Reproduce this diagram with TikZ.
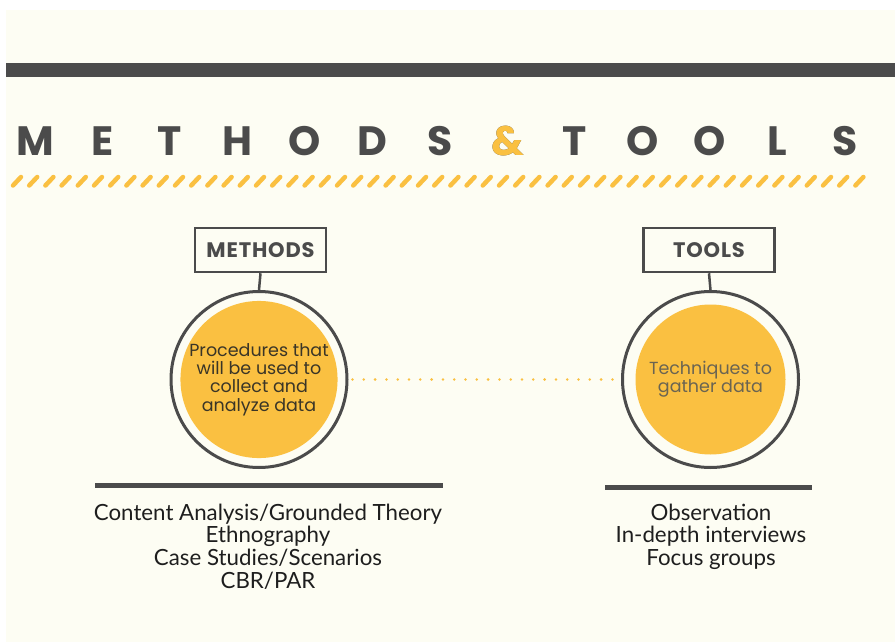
\documentclass[tikz,border=0pt]{standalone}
\usepackage{fontspec}
\setmainfont{Poppins}
\newfontfamily\listfont{Lato}
\definecolor{cream}{HTML}{FDFDF3}
\definecolor{ink}{HTML}{4B4B4B}
\definecolor{gold}{HTML}{FAC041}
\definecolor{coretext}{HTML}{3A3527}
\definecolor{softtext}{HTML}{6A6452}
\definecolor{listtext}{HTML}{1E1E1E}
\begin{document}
\begin{tikzpicture}[x=1pt,y=-1pt,
  letter/.style={font=\fontsize{41}{41}\selectfont\bfseries, text=ink, inner sep=0pt},
  labelbox/.style={draw=ink, line width=2.5pt, fill=cream, minimum width=131pt, minimum height=44pt,
    inner sep=0pt, font=\fontsize{21}{21}\selectfont\bfseries\addfontfeature{LetterSpace=4}, text=ink},
  ring/.style={circle, draw=ink, line width=3pt, fill=cream, minimum size=176pt, inner sep=0pt},
  core/.style={circle, fill=gold, minimum size=150pt, inner sep=0pt, align=center,
    font=\fontsize{17.5}{18.4}\selectfont},
  stem/.style={draw=ink, line width=2.5pt},
  rule/.style={draw=ink, line width=4.5pt},
  hatch/.style={draw=gold, line width=4.5pt, line cap=round},
  dots/.style={draw=gold, line width=2.8pt, line cap=round, dash pattern=on 0pt off 11.3pt},
  itemlist/.style={align=center, inner sep=0pt, text=listtext,
    font=\listfont\fontsize{22.3}{22.7}\selectfont}]
\useasboundingbox (0,0) rectangle (895,642);
% page and cream panel
\fill[white] (0,0) rectangle (895,642);
\fill[cream] (6,10) rectangle (895,642);
% top band
\fill[ink] (6,63) rectangle (895,77);
% spaced-out heading
\foreach \ch [count=\i from 0] in {M,E,T,H,O,D,S,\&,T,O,O,L,S}{
  \node[letter] (t\i) at (35+67.5*\i,141) {\ch};
}
\node[letter, text=gold] (amp) at (t7) {\&};
% striped underline
\foreach \k in {0,...,52}{
  \draw[hatch] (13+16.2*\k,185.5) -- (21+16.2*\k,177);
}
% methods column
\node[labelbox] (mbox) at (260.5,250) {METHODS};
\node[ring] (mring) at (259,379.5) {};
\node[core, text=coretext] (mcore) at (259,379.5) {Procedures that\\will be used to\\collect and\\analyze data};
\draw[stem] (mbox.south) -- (mring.north);
% tools column
\node[labelbox] (tbox) at (709,250) {TOOLS};
\node[ring] (tring) at (710.5,379.5) {};
\node[core, text=softtext] (tcore) at (710.5,379.5) {Techniques to\\gather data};
\draw[stem] (tbox.south) -- (tring.north);
% dotted link between the two circles
\draw[dots] ([xshift=4pt]mring.east) -- ([xshift=-3pt]tring.west);
% rules and lists
\coordinate (mbarL) at (95,485.5);
\coordinate (mbarR) at (443,485.5);
\draw[rule] (mbarL) -- (mbarR);
\coordinate (tbarL) at (605,487.5);
\coordinate (tbarR) at (812,487.5);
\draw[rule] (tbarL) -- (tbarR);
\node[itemlist, anchor=north] (mlist) at (268,503.5) {Content Analysis/Grounded Theory\\Ethnography\\Case Studies/Scenarios\\CBR/PAR};
\node[itemlist, anchor=north] (tlist) at (711,503.5) {Observation\\In-depth interviews\\Focus groups};
\end{tikzpicture}
\end{document}
